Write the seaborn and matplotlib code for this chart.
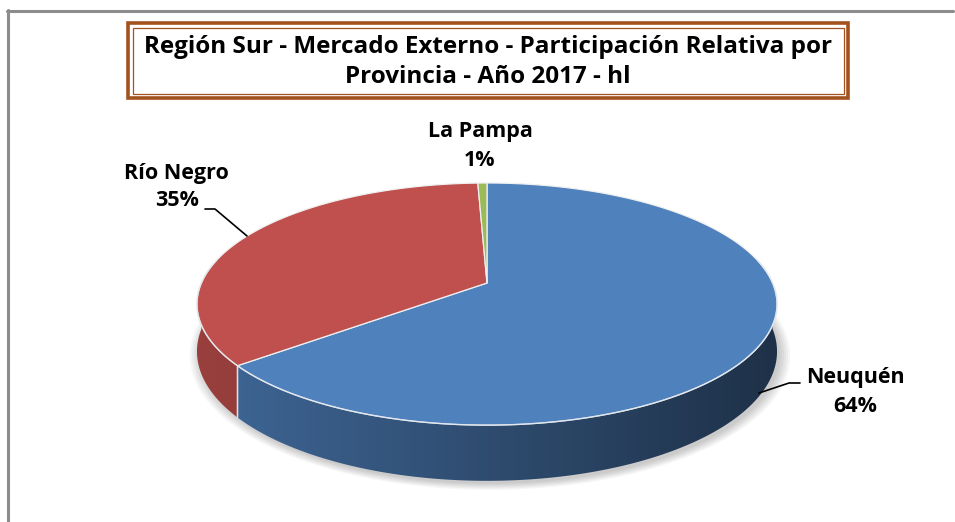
import numpy as np
import matplotlib
matplotlib.use("Agg")
import matplotlib.pyplot as plt
import seaborn as sns
from matplotlib.patches import Polygon, Rectangle
from matplotlib.lines import Line2D

# ---------------- data ----------------
provinces = ["Neuquén", "Río Negro", "La Pampa"]
shares = [64.2, 35.2, 0.6]          # % of hl, Región Sur, mercado externo 2017
pct_labels = ["64%", "35%", "1%"]
slice_colors = ["#4f81bd", "#c0504d", "#9bbb59"]
title_lines = ["Región Sur - Mercado Externo - Participación Relativa por",
               "Provincia - Año 2017 - hl"]

sns.set_theme(style="white")
plt.rcParams["font.family"] = ["Open Sans", "DejaVu Sans"]
plt.rcParams["text.color"] = "black"

W, Hh = 955, 522
fig = plt.figure(figsize=(W / 100, Hh / 100), dpi=100)
fig.patch.set_facecolor("white")
ax = fig.add_axes([0, 0, 1, 1])
ax.set_xlim(0, W)
ax.set_ylim(Hh, 0)
ax.axis("off")

# ---------------- 3D pie geometry (perspective) ----------------
CX, CY = 487, 283          # apex on screen
SX, SZ = 285.6, 117.4      # horizontal / depth scale
K = 0.174                  # perspective strength
DEPTH = 46                 # thickness of the pie


def proj(theta, down=0.0):
    X = np.sin(theta)
    Z = np.cos(theta)
    w = 1 + K * Z
    return CX + SX * X / w, CY - SZ * Z / w + down / w


def shade(x):
    u = (x - CX) / 290.0
    return 0.80 - 0.21 * (u + 1)


vals = np.array(shares, dtype=float)
bounds = np.concatenate([[0], np.cumsum(vals)]) / vals.sum() * 2 * np.pi

# soft shadow
tt = np.linspace(0, 2 * np.pi, 400)
for i, grow in enumerate(np.linspace(1.0, 1.035, 6)):
    bx, by = proj(tt, DEPTH)
    sx = CX + (bx - CX) * grow + 3
    sy = CY + 25 + (by - CY - 25) * grow + 3
    ax.add_patch(Polygon(np.column_stack([sx, sy]), closed=True,
                         facecolor="#000000", alpha=0.035, edgecolor="none", zorder=1))

# side walls (visible front half)
for a0, a1, col in zip(bounds[:-1], bounds[1:], slice_colors):
    lo, hi = max(a0, np.pi / 2), min(a1, 3 * np.pi / 2)
    if hi <= lo:
        continue
    th = np.linspace(lo, hi, 200)
    tx, ty = proj(th)
    bx, by = proj(th[::-1], DEPTH)
    poly = Polygon(np.column_stack([np.r_[tx, bx], np.r_[ty, by]]), closed=True,
                   facecolor="none", edgecolor="none", zorder=2)
    ax.add_patch(poly)
    x0, x1 = min(tx.min(), bx.min()) - 2, max(tx.max(), bx.max()) + 2
    y0, y1 = min(ty.min(), by.min()) - 2, max(ty.max(), by.max()) + 2
    xs = np.linspace(x0, x1, 400)
    base = np.array(matplotlib.colors.to_rgb(col))
    grad = np.clip(base[None, :] * shade(xs)[:, None], 0, 1)
    img = np.repeat(grad[None, :, :], 2, axis=0)
    im = ax.imshow(img, extent=(x0, x1, y1, y0), origin="upper", aspect="auto",
                   zorder=2, interpolation="bilinear")
    im.set_clip_path(poly)
    for a in (a0, a1):
        if np.pi / 2 < a < 3 * np.pi / 2:
            px, py = proj(np.array([a, a]), np.array([0, DEPTH]))
            ax.plot(px, py, color="#e6e6e6", lw=1.0, alpha=0.8, zorder=3)

ax.set_xlim(0, W)
ax.set_ylim(Hh, 0)

# top faces
for a0, a1, col in zip(bounds[:-1], bounds[1:], slice_colors):
    th = np.linspace(a0, a1, max(int((a1 - a0) / 0.01), 4))
    rx, ry = proj(th)
    pts = np.column_stack([np.r_[CX, rx], np.r_[CY, ry]])
    ax.add_patch(Polygon(pts, closed=True, facecolor=col, edgecolor="#f0f0f0",
                         lw=0.9, joinstyle="round", zorder=4))

# highlight along the front rim
th = np.linspace(np.pi / 2 - 0.2, 3 * np.pi / 2 + 0.2, 300)
rx, ry = proj(th)
ax.plot(rx, ry, color="#dfe6ee", lw=1.0, alpha=0.8, zorder=5)

# ---------------- labels ----------------
lab_kw = dict(fontsize=15.5, fontweight="bold", color="black", ha="center",
              va="center", zorder=6)
label_pos = [((855, 377), (855, 407)),   # Neuquén
             ((176, 173), (177, 200)),   # Río Negro
             ((480, 132), (480, 160))]   # La Pampa
for name, pct, (p1, p2) in zip(provinces, pct_labels, label_pos):
    ax.text(p1[0], p1[1], name, **lab_kw)
    ax.text(p2[0], p2[1], pct, **lab_kw)

# leader lines
ax.plot([205, 215, 247], [209, 209, 236], color="black", lw=1.2, zorder=6)
ax.plot([800, 789, 759], [383, 383, 393], color="black", lw=1.2, zorder=6)

# ---------------- title box ----------------
brown = "#a3521d"
ax.add_patch(Rectangle((128, 23), 720, 75, facecolor="white", edgecolor=brown,
                       lw=2.6, zorder=7))
ax.add_patch(Rectangle((132.5, 27.5), 711, 66, facecolor="none", edgecolor=brown,
                       lw=0.9, zorder=7))
ax.text(488, 47, title_lines[0], fontsize=17.5, fontweight="bold", ha="center",
        va="center", color="black", zorder=8)
ax.text(488, 77, title_lines[1], fontsize=17.5, fontweight="bold", ha="center",
        va="center", color="black", zorder=8)

# chart-area border
fig.add_artist(Line2D([7 / W, 953 / W], [1 - 11 / Hh, 1 - 11 / Hh], color="#8c8c8c", lw=2.2))
fig.add_artist(Line2D([8 / W, 8 / W], [1 - 10 / Hh, 0], color="#8c8c8c", lw=2.2))

fig.savefig("out.png", dpi=100, facecolor="white")
